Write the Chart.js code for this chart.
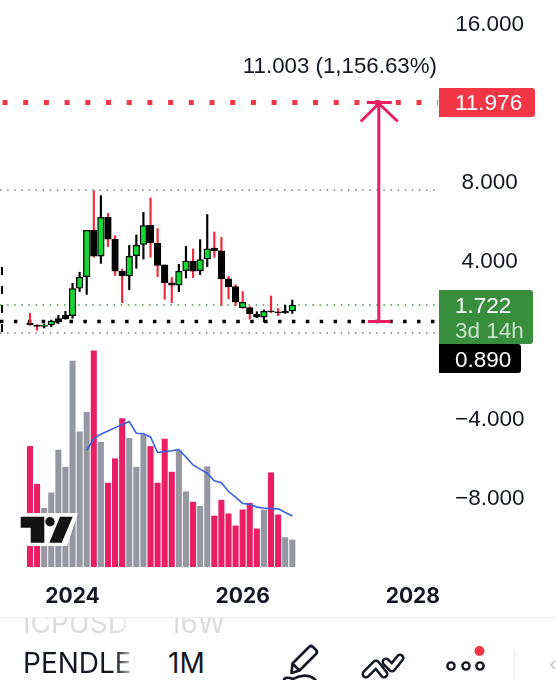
<!DOCTYPE html>
<html>
<head>
<meta charset="utf-8">
<title>PENDLEUSDT 1M</title>
<script src="https://cdn.jsdelivr.net/npm/chart.js@4/dist/chart.umd.min.js"></script>
<style>
    html, body { margin: 0; padding: 0; background: #fff; overflow: hidden; }
    body { width: 556px; height: 680px; position: relative; font-family: Inter, sans-serif; }
    #wrap { position: absolute; left: 0; top: 0; width: 556px; height: 618px; }
    #overlay { position: absolute; left: 0; top: 0; pointer-events: none; }
    #rule { position: absolute; left: 0; top: 617px; width: 556px; height: 1px; background: #eeeeee; }
    .sym { position: absolute; left: 23px; width: 113px; overflow: hidden; white-space: nowrap;
        -webkit-mask-image: linear-gradient(to right, #000 82%, transparent 100%);
        mask-image: linear-gradient(to right, #000 82%, transparent 100%); }
    .row { position: absolute; font-size: 28px; line-height: 34px; color: #131722; }
    .faded { color: #dcdcdc; }
    #clipTop { position: absolute; left: 0; top: 618px; width: 556px; height: 20px; overflow: hidden; }
</style>
</head>
<body>
<div id="wrap"><canvas id="chart" width="556" height="618"></canvas></div>
<div id="rule"></div>
<div id="clipTop">
    <div class="row sym faded" style="top:-12px">ICPUSDT</div>
    <div class="row faded" style="left:169px;top:-12px">16W</div>
</div>
<div class="row sym" style="top:646px">PENDLEUSDT</div>
<div class="row" style="left:168px;top:646px">1M</div>
<svg id="overlay" width="556" height="680" viewBox="0 0 556 680">
    <!-- watermark -->
    <polygon points="18,513 78,513 67,546 18,546" fill="#fff"/>
    <path d="M20.7 516.7H44.3V542.7H30.7V527.7H20.7Z" fill="#131313"/>
    <circle cx="50" cy="521.7" r="4.7" fill="#131313"/>
    <polygon points="60,516.7 72.7,516.7 61.7,542.7 49.3,542.7" fill="#131313"/>
    <!-- pencil -->
    <path d="M291.5 673L292.5 663.5L309 647Q311 645 313 647L316 650Q318 652 316 654L299.5 670.5Z M292.5 663.5L299.5 670.5" fill="none" stroke="#131722" stroke-width="2.6" stroke-linejoin="round"/>
    <path d="M284 682C283 677 288 677 293 679C300 675 311 673 317 682" fill="none" stroke="#131722" stroke-width="2.6"/>
    <!-- lines -->
    <g fill="none" stroke-linecap="round" stroke-linejoin="round">
        <path d="M366 674L376 664L384 674M386 662L392 668L400 658" stroke="#131722" stroke-width="9"/>
        <path d="M366 674L376 664L384 674M386 662L392 668L400 658" stroke="#fff" stroke-width="4"/>
    </g>
    <!-- more -->
    <g fill="none" stroke="#131722" stroke-width="2.4">
        <circle cx="451" cy="666" r="3.6"/>
        <circle cx="466" cy="666" r="3.6"/>
        <circle cx="480" cy="666" r="3.6"/>
    </g>
    <circle cx="479.5" cy="651" r="5" fill="#f23645"/>
    <line x1="514.5" y1="651" x2="514.5" y2="680" stroke="#eeeeee"/>
    <path d="M555 661L551 665L555 669" fill="none" stroke="#c4c4c4" stroke-width="1.5"/>
</svg>
<script>
// Monthly candles, first bar is the listing month
const opens = [0.81, 0.71, 0.64, 0.71, 1.03, 1.20, 1.18, 2.57, 3.16, 5.50, 4.20, 6.16, 5.05, 3.44, 3.19, 4.22, 4.79, 5.76, 4.84, 3.75, 2.85, 2.72, 3.46, 3.95, 3.46, 4.05, 4.61, 4.47, 3.05, 2.65, 1.59, 1.59, 1.25, 1.11, 1.43, 1.37, 1.40, 1.42];
const closes = [0.73, 0.64, 0.71, 0.91, 0.86, 1.03, 2.55, 3.12, 5.50, 4.20, 6.16, 5.06, 3.44, 3.19, 4.19, 4.74, 5.74, 4.86, 3.73, 2.85, 2.72, 3.43, 3.95, 3.44, 4.02, 4.57, 4.47, 3.05, 2.65, 1.87, 1.86, 1.28, 1.10, 1.40, 1.37, 1.32, 1.32, 1.72];
const highs = [1.30, 0.73, 0.76, 0.96, 1.20, 1.40, 2.82, 3.38, 5.50, 7.51, 7.26, 6.36, 5.23, 3.54, 4.74, 5.27, 6.41, 7.14, 5.59, 3.75, 3.12, 3.78, 4.69, 4.56, 5.03, 6.30, 5.42, 5.15, 3.17, 2.75, 2.40, 1.64, 1.38, 1.47, 2.18, 1.55, 1.70, 1.97];
const lows = [0.69, 0.44, 0.56, 0.62, 0.79, 1.00, 1.05, 2.40, 2.26, 4.14, 3.83, 4.68, 3.22, 1.84, 2.50, 3.58, 4.05, 4.14, 3.16, 2.01, 1.84, 2.40, 3.09, 3.11, 3.26, 3.66, 4.14, 1.70, 2.03, 1.69, 1.55, 1.01, 1.08, 0.86, 1.33, 1.18, 1.30, 1.30];
// 1 = red wick, 0 = black wick
const redWicks = [1, 1, 0, 0, 0, 0, 0, 0, 0, 1, 0, 1, 1, 1, 0, 0, 0, 1, 1, 1, 1, 0, 0, 1, 0, 0, 1, 1, 1, 1, 1, 1, 0, 0, 1, 1, 0, 0];

const volumes = [55.7, 38.2, 27.1, 34.2, 54.0, 46.1, 95.2, 62.5, 71.5, 100, 57.6, 38.7, 50, 68.6, 59.4, 46.1, 61.1, 55.7, 38.7, 59.1, 43.8, 53.4, 34.7, 29.9, 28, 46.3, 23.5, 30.8, 24.5, 18.9, 26.3, 29.4, 17.5, 26.3, 43.5, 24, 13.5, 12.4];
// 1 = pink volume bar, 0 = grey
const volumeDown = [1, 1, 0, 0, 0, 0, 0, 0, 0, 1, 0, 1, 1, 1, 0, 0, 0, 1, 1, 1, 1, 0, 0, 1, 0, 0, 1, 1, 1, 1, 1, 1, 1, 0, 1, 1, 0, 0];
const volumeMA = [null, null, null, null, null, null, null, null, 53.9, 59.3, 61.3, 62.8, 64.4, 65.9, 67.2, 61.8, 61.6, 60.1, 52.9, 53.3, 53.7, 54.2, 50.8, 47.1, 45.2, 43.3, 39.8, 38.9, 34.8, 32.2, 29.3, 28.9, 27.6, 27.2, 26.9, 26.8, 25.1, 23.5];

const priceTicks = [16, 8, 4, -4, -8];
const yearTicks = [6, 30, 54];
const yearLabels = ['2024', '2026', '2028'];

const targetPrice = 11.976;
const lastPrice = 1.722;
const stopPrice = 0.89;
const athPrice = 7.54;
const atlPrice = 0.30;
const measureLabel = '11.003 (1,156.63%)';
const countdown = '3d 14h';

const XMIN = -4.23, XMAX = 57.55;
const PRICE_FONT = '"Liberation Sans"';

const fmt = v => v.toFixed(3).replace('-', '\u2212');
const pts = arr => arr.map((y, x) => ({ x, y }));
const hline = (value, color, width, dash, offset, order) => ({
    type: 'line',
    data: [{ x: XMIN, y: value }, { x: XMAX, y: value }],
    borderColor: color,
    borderWidth: width,
    borderDash: dash,
    borderDashOffset: offset || 0,
    pointRadius: 0,
    order: order || 6
});

// tags on the price scale and the measure arrow
const overlayPlugin = {
    id: 'overlay',
    afterDatasetsDraw(chart) {
        const { ctx, scales } = chart;
        const y = scales.y, x = scales.x;
        const ax = x.getPixelForValue(49.2);
        const top = y.getPixelForValue(targetPrice);
        const bot = y.getPixelForValue(stopPrice);

        ctx.save();
        ctx.strokeStyle = '#e91e63';
        ctx.lineWidth = 3;
        ctx.beginPath();
        ctx.moveTo(ax, top); ctx.lineTo(ax, bot);
        ctx.moveTo(ax - 11, bot); ctx.lineTo(ax + 12, bot);
        ctx.moveTo(ax - 12, top); ctx.lineTo(ax + 13, top);
        ctx.moveTo(ax - 18, top + 19); ctx.lineTo(ax, top + 1); ctx.lineTo(ax + 19, top + 19);
        ctx.stroke();

        ctx.font = '22.3px ' + PRICE_FONT;
        ctx.fillStyle = '#131722';
        ctx.textAlign = 'right';
        ctx.textBaseline = 'middle';
        ctx.fillText(measureLabel, 437, 67);

        const tag = (l, t, w, h, bg) => {
            ctx.fillStyle = bg;
            ctx.beginPath();
            ctx.roundRect(l, t, w, h, [0, 3, 3, 0]);
            ctx.fill();
        };
        ctx.textAlign = 'left';
        ctx.font = '22.5px ' + PRICE_FONT;
        tag(439, 88, 96, 29, '#f23645');
        tag(439, 290, 94, 54, '#388e3c');
        tag(439, 344, 82, 29, '#000000');
        ctx.fillStyle = '#ffffff';
        ctx.fillText(fmt(targetPrice), 455, 104);
        ctx.fillText(fmt(lastPrice), 455, 307);
        ctx.fillText(fmt(stopPrice), 455, 361);
        ctx.fillStyle = '#c6e3c8';
        ctx.fillText(countdown, 455, 332);
        ctx.restore();
    }
};

new Chart(document.getElementById('chart'), {
    type: 'bar',
    data: {
        datasets: [
            {
                label: 'Body',
                data: opens.map((o, i) => ({ x: i, y: [o, closes[i]] })),
                backgroundColor: opens.map((o, i) => closes[i] > o ? '#14d634' : '#000000'),
                borderColor: '#000000',
                borderWidth: 1.3,
                borderSkipped: false,
                barThickness: 6.6,
                grouped: false,
                order: 1
            },
            {
                label: 'Wick',
                data: lows.map((l, i) => ({ x: i, y: [l, highs[i]] })),
                backgroundColor: redWicks.map(r => r ? '#f02a3c' : '#000000'),
                barThickness: 1.5,
                grouped: false,
                order: 2
            },
            hline(targetPrice, '#f23645', 5, [5, 15.7], -2.5, 3),
            hline(stopPrice, '#000000', 3.5, [3.5, 10.4], 0, 4),
            hline(lastPrice, '#3f8f45', 1.5, [1.5, 5.6]),
            hline(athPrice, '#787b86', 1.5, [1.5, 5.6]),
            hline(atlPrice, '#787b86', 1.5, [1.5, 5.6]),
            {
                type: 'line',
                label: 'Range start',
                data: [{ x: -3.95, y: 3.65 }, { x: -3.95, y: 0.35 }],
                borderColor: '#000000',
                borderWidth: 2,
                borderDash: [8, 11],
                pointRadius: 0,
                order: 6
            },
            {
                type: 'line',
                label: 'Volume MA',
                data: pts(volumeMA),
                yAxisID: 'v',
                borderColor: '#3a62e0',
                borderWidth: 1.6,
                pointRadius: 0,
                tension: 0,
                order: 0
            },
            {
                label: 'Volume',
                data: pts(volumes),
                yAxisID: 'v',
                backgroundColor: volumeDown.map(d => d ? '#e91e63' : '#9598a1'),
                barThickness: 5.4,
                grouped: false,
                order: 8
            }
        ]
    },
    options: {
        responsive: false,
        animation: false,
        events: [],
        layout: { padding: 0 },
        plugins: { legend: { display: false }, tooltip: { enabled: false } },
        scales: {
            x: {
                type: 'linear',
                offset: false,
                min: XMIN,
                max: XMAX,
                grid: { display: false, drawTicks: false },
                border: { display: false },
                afterBuildTicks: axis => { axis.ticks = yearTicks.map(value => ({ value })); },
                afterFit: axis => {
                    axis.height = 43;
                    axis.paddingLeft = axis.paddingRight = 0;
                },
                ticks: {
                    autoSkip: false,
                    maxRotation: 0,
                    padding: 9,
                    color: '#131722',
                    font: { family: 'Inter', size: 21, weight: '700' },
                    callback: (v, i) => yearLabels[i]
                }
            },
            y: {
                position: 'right',
                min: -11.949,
                max: 17.165,
                grid: { display: false, drawTicks: false },
                border: { display: false },
                afterBuildTicks: axis => { axis.ticks = priceTicks.map(value => ({ value })); },
                afterFit: axis => {
                    axis.width = 118;
                    axis.paddingTop = axis.paddingBottom = 0;
                },
                ticks: {
                    autoSkip: false,
                    crossAlign: 'center',
                    padding: 17,
                    labelOffset: 2,
                    color: '#131722',
                    font: { family: PRICE_FONT.replace(/"/g, ''), size: 22.5 },
                    callback: v => fmt(v)
                }
            },
            v: {
                display: false,
                min: -3.84,
                max: 262.4
            }
        }
    },
    plugins: [overlayPlugin]
});
</script>
</body>
</html>
